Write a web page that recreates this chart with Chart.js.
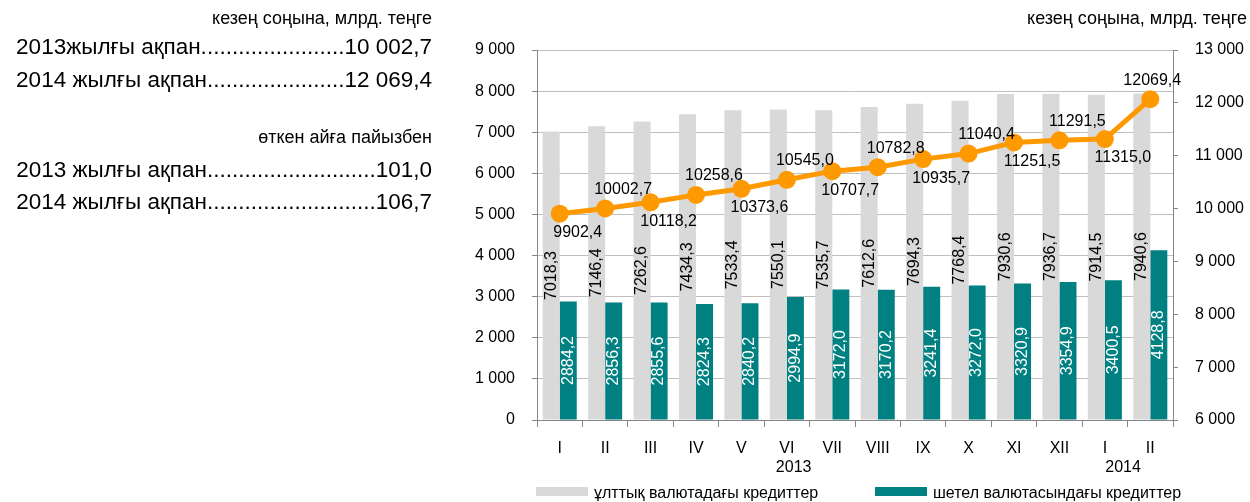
<!DOCTYPE html>
<html>
<head>
<meta charset="utf-8">
<script src="https://cdn.jsdelivr.net/npm/chart.js@4.4.0/dist/chart.umd.min.js"></script>
<style>
    html, body { margin: 0; padding: 0; background: #fff; }
    body { width: 1250px; height: 502px; position: relative; overflow: hidden;
           font-family: "Liberation Sans", Arial, sans-serif; color: #000; }
    #wrap { position: absolute; left: 0; top: 0; width: 1250px; height: 502px; }
    .note { position: absolute; white-space: nowrap; line-height: 1; }
    .left { left: 0; width: 432px; text-align: right; }
    .small { font-size: 18px; }
    .big { font-size: 22.5px; }
    .legend { position: absolute; top: 485px; font-size: 16px; white-space: nowrap; line-height: 16px; }
    .legend span.box { display: inline-block; width: 52px; height: 9px; margin-right: 6px; vertical-align: 2px; }
</style>
</head>
<body>
<div id="wrap"><canvas id="creditChart"></canvas></div>

<div class="note left small" style="top:9px">кезең соңына, млрд. теңге</div>
<div class="note left big" style="top:36px">2013жылғы ақпан.......................10 002,7</div>
<div class="note left big" style="top:69px">2014 жылғы ақпан......................12 069,4</div>
<div class="note left small" style="top:128px">өткен айға пайызбен</div>
<div class="note left big" style="top:159px">2013 жылғы ақпан...........................101,0</div>
<div class="note left big" style="top:191px">2014 жылғы ақпан...........................106,7</div>
<div class="note small" style="top:9px; right:3px">кезең соңына, млрд. теңге</div>

<div class="legend" style="left:536px"><span class="box" id="box0"></span>ұлттық валютадағы кредиттер</div>
<div class="legend" style="left:875px"><span class="box" id="box1"></span>шетел валютасындағы кредиттер</div>

<script>
// months of 2013 and the first two of 2014
const months = ['I', 'II', 'III', 'IV', 'V', 'VI', 'VII', 'VIII', 'IX', 'X', 'XI', 'XII', 'I', 'II'];
const years = ['2013', '2014'];

// credits in national currency (left axis)
const nationalCredits = [7018.3, 7146.4, 7262.6, 7434.3, 7533.4, 7550.1, 7535.7,
    7612.6, 7694.3, 7768.4, 7930.6, 7936.7, 7914.5, 7940.6];
// credits in foreign currency (left axis)
const foreignCredits = [2884.2, 2856.3, 2855.6, 2824.3, 2840.2, 2994.9, 3172.0,
    3170.2, 3241.4, 3272.0, 3320.9, 3354.9, 3400.5, 4128.8];
// total credits (right axis)
const totalCredits = [9902.4, 10002.7, 10118.2, 10258.6, 10373.6, 10545.0, 10707.7,
    10782.8, 10935.7, 11040.4, 11251.5, 11291.5, 11315.0, 12069.4];

const seriesNames = ['ұлттық валютадағы кредиттер', 'шетел валютасындағы кредиттер'];

const COLORS = {
    grey: '#D9D9D9',
    teal: '#008080',
    orange: '#FF9900',
    grid: '#BFBFBF',
    axis: '#868686',
};

const FONT = '"Liberation Sans", Arial, sans-serif';

document.getElementById('box0').style.background = COLORS.grey;
document.getElementById('box1').style.background = COLORS.teal;

// 7018.3 -> "7018,3"
const fmtValue = v => v.toFixed(1).replace('.', ',');
// 9000 -> "9 000"
const fmtTick = v => String(v).replace(/\B(?=(\d{3})+(?!\d))/g, ' ');

// draw the value labels on bars and around the line points, plus the year row
const valueLabels = {
    id: 'valueLabels',
    afterDatasetsDraw(chart) {
        const c = chart.ctx;
        c.save();
        c.font = '16px ' + FONT;
        c.textAlign = 'center';
        c.textBaseline = 'middle';

        // bar labels, rotated, centred in the bar
        [0, 1].forEach(di => {
            const meta = chart.getDatasetMeta(di);
            meta.data.forEach((bar, i) => {
                const v = chart.data.datasets[di].data[i];
                c.save();
                c.translate(bar.x, (bar.y + bar.base) / 2);
                c.rotate(-Math.PI / 2);
                c.fillStyle = di === 0 ? '#000' : '#fff';
                c.fillText(fmtValue(v), 0, 0);
                c.restore();
            });
        });

        // line labels alternate below / above the point
        const lineMeta = chart.getDatasetMeta(2);
        c.fillStyle = '#000';
        lineMeta.data.forEach((pt, i) => {
            const v = chart.data.datasets[2].data[i];
            const dy = i % 2 === 0 ? 19 : -19;
            const dx = i === lineMeta.data.length - 1 ? 2 : 18;
            c.fillText(fmtValue(v), pt.x + dx, pt.y + dy);
        });

        // year row under the month labels
        const xs = chart.scales.x;
        const spots = [5.15, 12.4];
        c.fillStyle = '#000';
        years.forEach((y, i) => {
            c.fillText(y, xs.getPixelForValue(spots[i]), 468);
        });
        c.restore();
    }
};

const ctx = document.getElementById('creditChart');

const chartConfig = {
    type: 'bar',
    data: {
        labels: months,
        datasets: [
            {
                label: seriesNames[0],
                data: nationalCredits,
                backgroundColor: COLORS.grey,
                yAxisID: 'y',
                order: 1,
                categoryPercentage: 0.75,
                barPercentage: 1.0
            },
            {
                label: seriesNames[1],
                data: foreignCredits,
                backgroundColor: COLORS.teal,
                yAxisID: 'y',
                order: 1,
                categoryPercentage: 0.75,
                barPercentage: 1.0
            },
            {
                type: 'line',
                label: 'total',
                data: totalCredits,
                borderColor: COLORS.orange,
                backgroundColor: COLORS.orange,
                borderWidth: 5,
                pointRadius: 9,
                pointHoverRadius: 9,
                pointBackgroundColor: COLORS.orange,
                pointBorderWidth: 0,
                yAxisID: 'y1',
                order: 0
            }
        ]
    },
    options: {
        responsive: true,
        maintainAspectRatio: false,
        animation: false,
        layout: {
            padding: { left: 467, right: 0, top: 50, bottom: 22 }
        },
        plugins: {
            legend: { display: false },
            title: { display: false },
            tooltip: { enabled: false }
        },
        scales: {
            x: {
                offset: true,
                grid: {
                    offset: true,
                    drawOnChartArea: false,
                    color: COLORS.axis,
                    tickLength: 7
                },
                border: { color: COLORS.axis },
                ticks: {
                    color: '#000',
                    font: { size: 16, family: FONT },
                    padding: 12,
                    maxRotation: 0,
                    autoSkip: false
                },
                afterFit: scale => { scale.height = 60; }
            },
            y: {
                position: 'left',
                min: 0,
                max: 9000,
                grid: { color: COLORS.grid, tickLength: 5, tickColor: COLORS.axis },
                border: { color: COLORS.axis },
                ticks: {
                    stepSize: 1000,
                    color: '#000',
                    font: { size: 16, family: FONT },
                    padding: 17,
                    callback: v => fmtTick(v)
                },
                afterFit: scale => { scale.width = 70; }
            },
            y1: {
                position: 'right',
                min: 6000,
                max: 13000,
                grid: { drawOnChartArea: false, tickLength: 5, color: COLORS.axis },
                border: { color: COLORS.axis },
                ticks: {
                    stepSize: 1000,
                    color: '#000',
                    font: { size: 16, family: FONT },
                    padding: 17,
                    callback: v => fmtTick(v)
                },
                afterFit: scale => { scale.width = 77; }
            }
        }
    },
    plugins: [valueLabels]
};

const creditChart = new Chart(ctx, chartConfig);
</script>
</body>
</html>
